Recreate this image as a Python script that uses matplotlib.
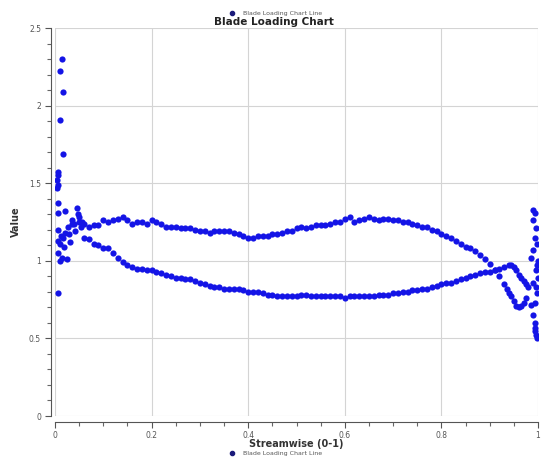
import numpy as np
import matplotlib
matplotlib.use("Agg")
import matplotlib.pyplot as plt
from matplotlib.lines import Line2D
from matplotlib.ticker import MultipleLocator

# upper branch (~1.2)
upper_x = [0.04, 0.05, 0.06, 0.07, 0.08, 0.09, 0.10, 0.11, 0.12, 0.13, 0.14, 0.15, 0.16, 0.17,
           0.18, 0.19, 0.20, 0.21, 0.22, 0.23, 0.24, 0.25, 0.26, 0.27, 0.28, 0.29, 0.30, 0.31,
           0.32, 0.33, 0.34, 0.35, 0.36, 0.37, 0.38, 0.39, 0.40, 0.41, 0.42, 0.43, 0.44, 0.45,
           0.46, 0.47, 0.48, 0.49, 0.50, 0.51, 0.52, 0.53, 0.54, 0.55, 0.56, 0.57, 0.58, 0.59,
           0.60, 0.61, 0.62, 0.63, 0.64, 0.65, 0.66, 0.67, 0.68, 0.69, 0.70, 0.71, 0.72, 0.73,
           0.74, 0.75, 0.76, 0.77, 0.78, 0.79, 0.80, 0.81, 0.82, 0.83, 0.84, 0.85, 0.86, 0.87,
           0.88, 0.89, 0.90, 0.91, 0.92, 0.93, 0.935, 0.94, 0.945, 0.95, 0.955, 0.96, 0.965,
           0.97, 0.975]
upper_y = [1.24, 1.25, 1.24, 1.22, 1.23, 1.23, 1.26, 1.25, 1.26, 1.27, 1.28, 1.26, 1.24, 1.25,
           1.25, 1.24, 1.26, 1.25, 1.24, 1.22, 1.22, 1.22, 1.21, 1.21, 1.21, 1.20, 1.19, 1.19,
           1.18, 1.19, 1.19, 1.19, 1.19, 1.18, 1.17, 1.16, 1.15, 1.15, 1.16, 1.16, 1.16, 1.17,
           1.17, 1.18, 1.19, 1.19, 1.21, 1.22, 1.21, 1.22, 1.23, 1.23, 1.23, 1.24, 1.25, 1.25,
           1.27, 1.28, 1.25, 1.26, 1.27, 1.28, 1.27, 1.26, 1.27, 1.27, 1.26, 1.26, 1.25, 1.25,
           1.24, 1.23, 1.22, 1.22, 1.20, 1.19, 1.17, 1.16, 1.15, 1.13, 1.11, 1.09, 1.08, 1.06,
           1.04, 1.01, 0.98, 0.94, 0.90, 0.85, 0.82, 0.79, 0.77, 0.74, 0.71, 0.70, 0.71,
           0.73, 0.76]

# lower branch (~0.8)
lower_x = [0.06, 0.07, 0.08, 0.09, 0.10, 0.11, 0.12, 0.13, 0.14, 0.15, 0.16, 0.17, 0.18, 0.19,
           0.20, 0.21, 0.22, 0.23, 0.24, 0.25, 0.26, 0.27, 0.28, 0.29, 0.30, 0.31, 0.32, 0.33,
           0.34, 0.35, 0.36, 0.37, 0.38, 0.39, 0.40, 0.41, 0.42, 0.43, 0.44, 0.45, 0.46, 0.47,
           0.48, 0.49, 0.50, 0.51, 0.52, 0.53, 0.54, 0.55, 0.56, 0.57, 0.58, 0.59, 0.60, 0.61,
           0.62, 0.63, 0.64, 0.65, 0.66, 0.67, 0.68, 0.69, 0.70, 0.71, 0.72, 0.73, 0.74, 0.75,
           0.76, 0.77, 0.78, 0.79, 0.80, 0.81, 0.82, 0.83, 0.84, 0.85, 0.86, 0.87, 0.88, 0.89,
           0.90, 0.91, 0.92, 0.93, 0.94, 0.945, 0.95, 0.955, 0.96, 0.965, 0.97, 0.975, 0.98]
lower_y = [1.15, 1.14, 1.11, 1.10, 1.08, 1.08, 1.05, 1.02, 0.99, 0.97, 0.96, 0.95, 0.95, 0.94,
           0.94, 0.93, 0.92, 0.91, 0.90, 0.89, 0.89, 0.88, 0.88, 0.87, 0.86, 0.85, 0.84, 0.83,
           0.83, 0.82, 0.82, 0.82, 0.82, 0.81, 0.80, 0.80, 0.80, 0.79, 0.78, 0.78, 0.77, 0.77,
           0.77, 0.77, 0.77, 0.78, 0.78, 0.77, 0.77, 0.77, 0.77, 0.77, 0.77, 0.77, 0.76, 0.77,
           0.77, 0.77, 0.77, 0.77, 0.77, 0.78, 0.78, 0.78, 0.79, 0.79, 0.80, 0.80, 0.81, 0.81,
           0.82, 0.82, 0.83, 0.84, 0.85, 0.86, 0.86, 0.87, 0.88, 0.89, 0.90, 0.91, 0.92, 0.93,
           0.93, 0.94, 0.95, 0.96, 0.97, 0.97, 0.96, 0.94, 0.91, 0.89, 0.87, 0.85, 0.83]

# leading edge scatter
le_x = [0.014, 0.010, 0.016, 0.010, 0.017, 0.006, 0.006, 0.005, 0.006, 0.005, 0.006, 0.006,
        0.021, 0.006, 0.006, 0.010, 0.006, 0.014, 0.010, 0.025, 0.031, 0.016, 0.021, 0.027,
        0.035, 0.041, 0.046, 0.048, 0.056, 0.006, 0.012, 0.018, 0.036, 0.050, 0.053, 0.030]
le_y = [2.30, 2.22, 2.09, 1.91, 1.69, 1.57, 1.55, 1.52, 1.49, 1.47, 1.37, 1.31,
        1.32, 1.20, 1.13, 1.11, 1.05, 1.02, 1.00, 1.01, 1.12, 1.15, 1.18, 1.22,
        1.24, 1.19, 1.34, 1.30, 1.25, 0.79, 1.16, 1.09, 1.26, 1.28, 1.22, 1.17]

# trailing edge scatter
te_x = [0.990, 0.993, 0.990, 0.995, 0.993, 0.998, 0.990, 0.985, 0.999, 0.997, 0.996, 0.999,
        0.990, 0.996, 0.998, 0.993, 0.985, 0.990, 0.993, 0.993, 0.993, 0.995, 0.997]
te_y = [1.33, 1.31, 1.26, 1.21, 1.15, 1.11, 1.07, 1.02, 1.00, 0.97, 0.94, 0.89,
        0.86, 0.83, 0.79, 0.73, 0.715, 0.65, 0.60, 0.57, 0.55, 0.52, 0.50]

x_ticks = [0, 0.2, 0.4, 0.6, 0.8, 1]
x_labels = ["0", "0.2", "0.4", "0.6", "0.8", "1"]
y_ticks = [0, 0.5, 1, 1.5, 2, 2.5]
y_labels = ["0", "0.5", "1", "1.5", "2", "2.5"]

BLUE = "#1414e6"

fig = plt.figure(figsize=(5.48, 4.57), dpi=100)
ax = fig.add_axes([55 / 548, 41 / 457, 483 / 548, 388 / 457])

all_x = upper_x + lower_x + le_x + te_x
all_y = upper_y + lower_y + le_y + te_y
ax.scatter(all_x, all_y, s=20, c=BLUE, linewidths=0, zorder=3)

ax.set_xlim(0, 1)
ax.set_ylim(0, 2.5)
ax.set_xticks(x_ticks)
ax.set_xticklabels(x_labels)
ax.set_yticks(y_ticks)
ax.set_yticklabels(y_labels)
ax.xaxis.set_minor_locator(MultipleLocator(0.05))
ax.yaxis.set_minor_locator(MultipleLocator(0.1))
ax.tick_params(which="major", length=4, width=0.8, color="#555555",
               labelsize=5.5, labelcolor="#555555", pad=3)
ax.tick_params(which="minor", length=3, width=0.8, color="#666666")
ax.grid(True, which="major", color="#d4d4d4", linewidth=0.8)

for s in ["top", "right"]:
    ax.spines[s].set_visible(False)
ax.spines["left"].set_position(("outward", 3))
ax.spines["bottom"].set_position(("outward", 4))
ax.spines["left"].set_color("#555555")
ax.spines["bottom"].set_color("#555555")

ax.set_xlabel("Streamwise (0-1)", fontsize=7, fontweight="bold", color="#333333", labelpad=-1)
ax.set_ylabel("Value", fontsize=7, fontweight="bold", color="#333333", labelpad=6)

fig.text(0.5, 1 - 22 / 457, "Blade Loading Chart", ha="center", va="center",
         fontsize=7.5, fontweight="bold", color="#222222")

h = Line2D([], [], marker="o", linestyle="none", color="#1a1a7a", markersize=3)
fig.legend(handles=[h], labels=["Blade Loading Chart Line"], loc="center",
           bbox_to_anchor=(0.5, 1 - 13 / 457), frameon=False, fontsize=4.5,
           handletextpad=0.8, labelcolor="#555555")
fig.legend(handles=[h], labels=["Blade Loading Chart Line"], loc="center",
           bbox_to_anchor=(0.5, 1 - 453 / 457), frameon=False, fontsize=4.5,
           handletextpad=0.8, labelcolor="#555555")

fig.savefig("out.png", dpi=100, facecolor="white")
